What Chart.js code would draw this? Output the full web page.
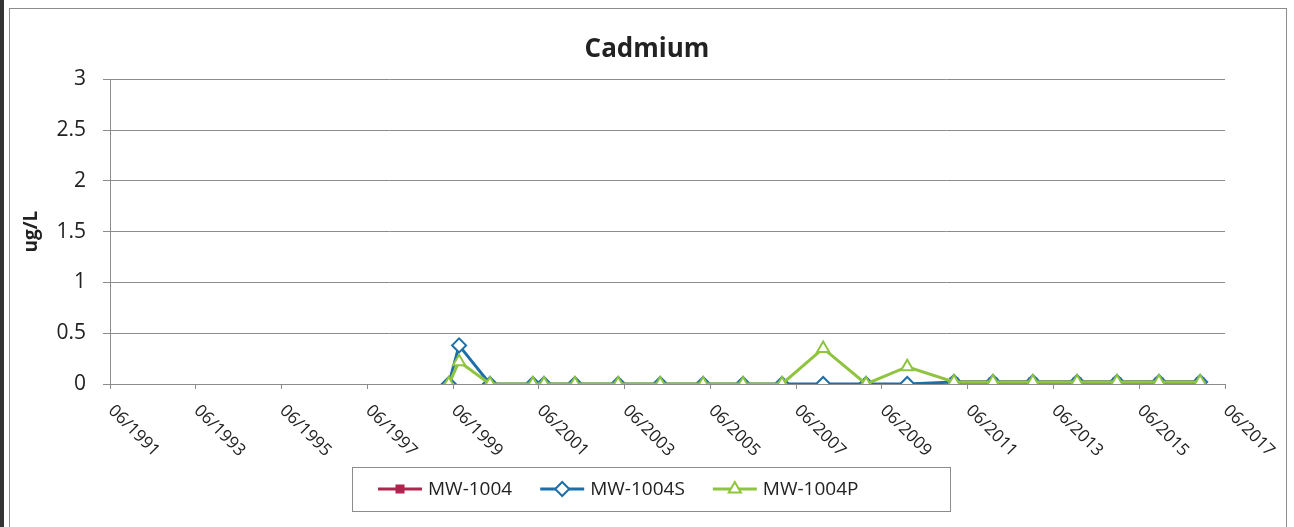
<!DOCTYPE html>
<html>
<head>
<meta charset="utf-8">
<script src="https://cdn.jsdelivr.net/npm/chart.js@4.4.0/dist/chart.umd.min.js"></script>
<style>
  html, body { margin: 0; padding: 0; background: #fff; }
</style>
</head>
<body>
<canvas id="myChart" width="1294" height="527"></canvas>
<script>
// sample dates as decimal years
const sampleDates = [
    1999.40, 1999.64, 2000.36, 2001.36, 2001.62, 2002.34, 2003.35,
    2004.33, 2005.33, 2006.26, 2007.17, 2008.13, 2009.13, 2010.09,
    2011.18, 2012.09, 2013.02, 2014.05, 2014.98, 2015.96, 2016.92,
];

const mw1004 = [
    null, null, null, null, null, null, null,
    null, null, null, null, null, null, null,
    0.02, 0.02, 0.02, 0.02, 0.02, 0.02, 0.02,
];

const mw1004S = [
    0, 0.38, 0, 0, 0, 0, 0,
    0, 0, 0, 0, 0, 0, 0,
    0.02, 0.02, 0.02, 0.02, 0.02, 0.02, 0.02,
];

const mw1004P = [
    0, 0.22, 0, 0, 0, 0, 0,
    0, 0, 0, 0, 0.35, 0, 0.17,
    0.02, 0.02, 0.02, 0.02, 0.02, 0.02, 0.02,
];

const tickYears = [1991.5, 1993.5, 1995.5, 1997.5, 1999.5, 2001.5, 2003.5,
    2005.5, 2007.5, 2009.5, 2011.5, 2013.5, 2015.5, 2017.5];
const tickLabels = ['06/1991', '06/1993', '06/1995', '06/1997', '06/1999', '06/2001', '06/2003',
    '06/2005', '06/2007', '06/2009', '06/2011', '06/2013', '06/2015', '06/2017'];

const FONT = '"Open Sans"';

function toPoints(values) {
    const pts = [];
    values.forEach((v, i) => {
        if (v !== null) pts.push({ x: sampleDates[i], y: v });
    });
    return pts;
}

const data = {
    datasets: [
    {
        label: 'MW-1004',
        data: toPoints(mw1004),
        borderColor: '#b0254f',
        backgroundColor: '#b0254f',
        pointBackgroundColor: '#b0254f',
        pointStyle: 'rect',
        pointRadius: 5,
        order: 3,
    },
    {
        label: 'MW-1004S',
        data: toPoints(mw1004S),
        borderColor: '#1d6fa9',
        backgroundColor: '#1d6fa9',
        pointBackgroundColor: '#ffffff',
        pointStyle: 'rectRot',
        pointRadius: 7,
        order: 2,
    },
    {
        label: 'MW-1004P',
        data: toPoints(mw1004P),
        borderColor: '#8fc43f',
        backgroundColor: '#8fc43f',
        pointBackgroundColor: '#ffffff',
        pointStyle: 'triangle',
        pointRadius: 7,
        order: 1,
    }
]
};

// rotated x labels going down to the right, like the excel chart
const xLabels = {
    id: 'xLabels',
    afterDraw(chart) {
        const sc = chart.scales.x;
        const ctx = chart.ctx;
        ctx.save();
        ctx.font = '17px ' + FONT;
        ctx.fillStyle = '#222';
        ctx.textAlign = 'left';
        ctx.textBaseline = 'middle';
        tickYears.forEach((v, i) => {
            const px = sc.getPixelForValue(v);
            ctx.save();
            ctx.translate(px + 1, sc.top + 24);
            ctx.rotate(Math.PI / 4);
            ctx.fillText(tickLabels[i], 0, 0);
            ctx.restore();
        });
        ctx.restore();
    }
};

// boxed legend with line + marker samples, and the outer frame
const boxLegend = {
    id: 'boxLegend',
    afterDraw(chart) {
        const ctx = chart.ctx;
        const cx = chart.width / 2;
        const top = chart.chartArea.bottom + 83;
        const left = cx - 295, right = cx + 303, bottom = top + 44;
        ctx.save();
        ctx.strokeStyle = '#8c8c8c';
        ctx.lineWidth = 1;
        ctx.strokeRect(Math.round(left) + 0.5, top + 0.5, right - left, bottom - top);
        // outer frame
        ctx.strokeRect(9.5, 8.5, chart.width - 17, chart.height - 2);
        ctx.fillStyle = '#333';
        ctx.fillRect(0, 0, 4, chart.height);

        ctx.font = '19px ' + FONT;
        ctx.textBaseline = 'middle';
        const y = top + 22;
        let x = left + 26;
        chart.data.datasets.forEach(ds => {
            ctx.strokeStyle = ds.borderColor;
            ctx.lineWidth = 3;
            ctx.beginPath();
            ctx.moveTo(x, y);
            ctx.lineTo(x + 44, y);
            ctx.stroke();
            ctx.fillStyle = ds.pointBackgroundColor;
            ctx.lineWidth = 2;
            Chart.helpers.drawPoint(ctx, {
                pointStyle: ds.pointStyle,
                radius: ds.pointRadius,
                rotation: 0,
                borderWidth: 2
            }, x + 22, y);
            ctx.fillStyle = '#222';
            ctx.fillText(ds.label, x + 50, y + 1);
            x += 50 + ctx.measureText(ds.label).width + 28;
        });
        ctx.restore();
    }
};

const config = {
    type: 'line',
    data: data,
    options: {
        responsive: false,
        animation: false,
        layout: { padding: { left: 8, right: 8, top: 0, bottom: 63 } },
        elements: {
            line: { borderWidth: 3, tension: 0 },
            point: { borderWidth: 2 }
        },
        plugins: {
            legend: { display: false },
            tooltip: { enabled: false },
            title: {
                display: true,
                text: 'Cadmium',
                color: '#222',
                font: { family: FONT, size: 26, weight: 'bold' },
                padding: { top: 34, bottom: 14 }
            }
        },
        scales: {
            x: {
                type: 'linear',
                min: 1991.5,
                max: 2017.5,
                afterBuildTicks: (scale) => {
                    scale.ticks = tickYears.map(v => ({ value: v }));
                },
                afterFit: (scale) => { scale.height = 80; },
                ticks: { display: false },
                grid: {
                    drawOnChartArea: false,
                    drawTicks: true,
                    tickLength: 5,
                    color: '#8c8c8c'
                },
                border: { display: true, color: '#8c8c8c' }
            },
            y: {
                min: 0,
                max: 3,
                afterFit: (scale) => { scale.width = 102; },
                ticks: {
                    stepSize: 0.5,
                    padding: 17,
                    color: '#222',
                    font: { family: FONT, size: 21 },
                    callback: (v) => String(v)
                },
                grid: { color: '#8c8c8c', tickLength: 7 },
                border: { display: true, color: '#8c8c8c' },
                title: {
                    display: true,
                    text: 'ug/L',
                    color: '#222',
                    font: { family: FONT, size: 19, weight: 'bold' },
                    padding: { top: 12, bottom: 0 }
                }
            },
            yRight: {
                position: 'right',
                display: true,
                afterFit: (scale) => { scale.width = 61; },
                ticks: { display: false },
                grid: { display: false },
                border: { display: false }
            }
        }
    },
    plugins: [xLabels, boxLegend]
};

const myChart = new Chart(
    document.getElementById('myChart'),
    config
);
</script>
</body>
</html>
